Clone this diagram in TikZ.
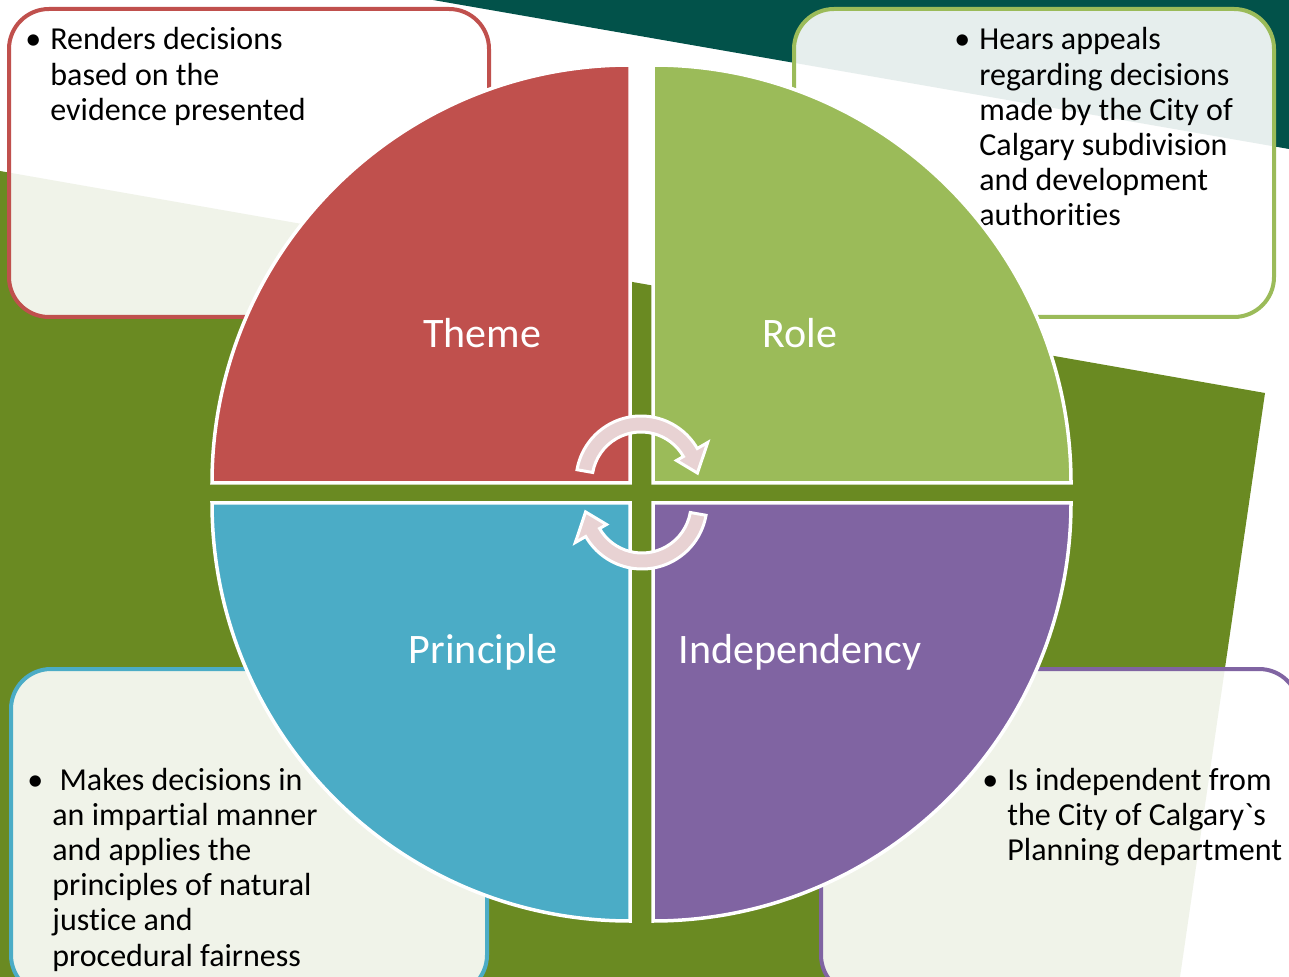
\documentclass[tikz,border=0pt]{standalone}
\usepackage{fontspec}
\setmainfont{Carlito}[Ligatures=CommonOff]
\definecolor{bgteal}{HTML}{02524A}
\definecolor{bgolive}{HTML}{6A8A22}
\definecolor{themered}{HTML}{C0504D}
\definecolor{rolegreen}{HTML}{9BBB59}
\definecolor{princblue}{HTML}{4BACC6}
\definecolor{indeppurple}{HTML}{8064A2}
\definecolor{arrowpink}{HTML}{E8D2D3}
\newcommand{\bullist}[1]{\begin{tabular}[t]{@{}p{12.5pt}@{}l@{}}\textbullet & \begin{tabular}[t]{@{}l@{}}#1\end{tabular}\end{tabular}}
\tikzset{
  box/.style={line width=2pt, rounded corners=20pt, fill=white, fill opacity=0.9},
  quad/.style={draw=white, line width=1.75pt},
  quadtext/.style={text=white, font=\fontsize{21}{25}\selectfont},
  note/.style={anchor=base west, inner sep=0pt, text=black, font=\fontsize{16}{17.6}\selectfont},
  cyc/.style={fill=arrowpink, draw=white, line width=1.5pt}
}
\begin{document}
\begin{tikzpicture}[x=0.5pt,y=-0.5pt]
\useasboundingbox (0,0) rectangle (1289,977);
\clip (0,0) rectangle (1289,977);
\fill[bgteal] (433,0) -- (1289,0) -- (1289,149) -- cycle;
\fill[bgolive] (0,171) -- (1265,393) -- (1180,977) -- (0,977) -- cycle;

\draw[box, draw=themered] (9,9) rectangle (489,317);
\draw[box, draw=rolegreen] (794,9) rectangle (1274,317);
\draw[box, draw=princblue] (11,669) rectangle (487,995);
\draw[box, draw=indeppurple] (821,669) rectangle (1299,995);

\node[note] (renders) at (25,50) {\bullist{Renders decisions\\based on the\\evidence presented}};
\node[note] (hears) at (954,50) {\bullist{Hears appeals\\regarding decisions\\made by the City of\\Calgary subdivision\\and development\\authorities}};
\node[note] (makes) at (27,790) {\bullist{\ Makes decisions in\\an impartial manner\\and applies the\\principles of natural\\justice and\\procedural fairness}};
\node[note] (isindep) at (982,790) {\bullist{Is independent from\\the City of Calgary\textasciigrave s\\Planning department}};

\foreach \qc/\cx/\cy/\st in {themered/630/483/180, rolegreen/653/483/270, princblue/630/503/90, indeppurple/653/503/0}
{
    \filldraw[quad, fill=\qc] (\cx,\cy) -- ++(\st:418) arc[start angle=\st, delta angle=90, radius=418] -- cycle;
}
\node[quadtext] (theme) at (482,333) {Theme};
\node[quadtext] (role) at (800,333) {Role};
\node[quadtext] (principle) at (483,652) {Principle};
\node[quadtext] (indep) at (800,652) {Independency};

\begin{scope}[shift={(641,481)}]
\filldraw[cyc] (190:65) arc[start angle=190, end angle=330, radius=65] -- (330:77) -- (352:57) -- (330:41) -- (330:49) arc[start angle=330, end angle=190, radius=49] -- cycle;
\end{scope}
\begin{scope}[shift={(642,504)}]
\filldraw[cyc] (10:65) arc[start angle=10, end angle=150, radius=65] -- (150:77) -- (172:57) -- (150:41) -- (150:49) arc[start angle=150, end angle=10, radius=49] -- cycle;
\end{scope}
\end{tikzpicture}
\end{document}
